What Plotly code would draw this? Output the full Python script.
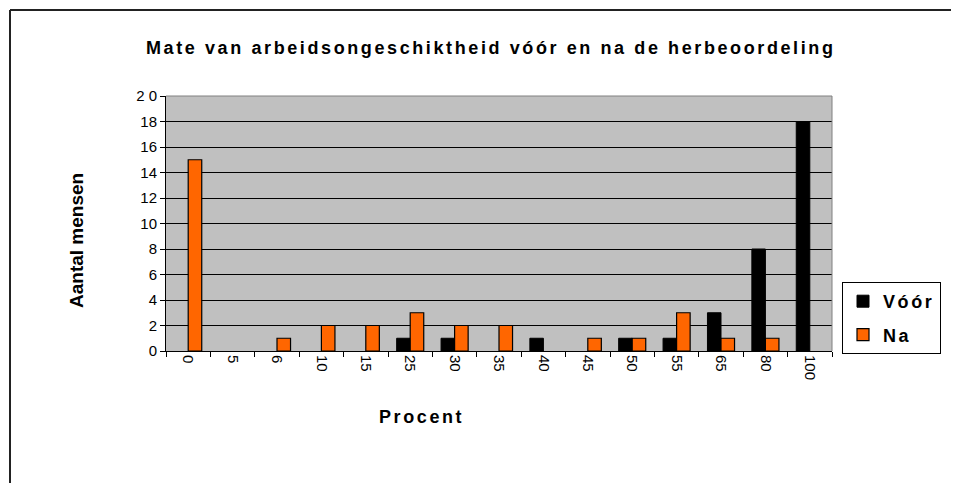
import plotly.graph_objects as go

categories = ["0", "5", "6", "10", "15", "25", "30", "35", "40", "45", "50", "55", "65", "80", "100"]
voor = [0, 0, 0, 0, 0, 1, 1, 0, 1, 0, 1, 1, 3, 8, 18]
na = [15, 0, 1, 2, 2, 3, 2, 2, 0, 1, 1, 3, 1, 1, 0]
y_ticks = [0, 2, 4, 6, 8, 10, 12, 14, 16, 18, 20]
y_ticktext = ["0", "2", "4", "6", "8", "10", "12", "14", "16", "18", "2 0"]

# page body has an 8px margin; work in window pixel coordinates
OFF = 8
WIN_W, WIN_H = 959, 483
W, H = WIN_W - OFF, WIN_H - OFF
L, R, T, B = 166, 832, 96, 351   # plot area in window px

def px(x):
    return (x - L) / (R - L)

def py(y):
    return (B - y) / (B - T)

def nz(vals):
    return [v if v else None for v in vals]

FONT = "Arial, Liberation Sans, sans-serif"
SP = "letter-spacing:2.6px"

fig = go.Figure()
fig.add_trace(go.Bar(name=f"<b><span style='{SP}'>Vóór</span></b>", x=categories, y=nz(voor),
                     legendgroup="a",
                     marker=dict(color="#000000", line=dict(color="#000000", width=1))))
fig.add_trace(go.Bar(name=f"<b><span style='{SP}'>Na</span></b>", x=categories, y=nz(na),
                     legendgroup="b",
                     marker=dict(color="#ff6600", line=dict(color="#000000", width=1.2))))

fig.update_layout(
    width=W, height=H,
    margin=dict(l=L - OFF, r=WIN_W - R, t=T - OFF, b=WIN_H - B, pad=0),
    paper_bgcolor="white",
    plot_bgcolor="#c0c0c0",
    barmode="group",
    bargap=0.39,
    bargroupgap=0,
    font=dict(family=FONT, size=15, color="black"),
    showlegend=True,
    legend=dict(
        x=px(842), y=py(282), xanchor="left", yanchor="top",
        bgcolor="white", bordercolor="#000000", borderwidth=1,
        font=dict(family=FONT, size=18, color="black"),
        traceorder="grouped", tracegroupgap=7,
    ),
    xaxis=dict(
        type="category", tickangle=90, showgrid=False,
        showline=True, linecolor="black", linewidth=1,
        ticks="outside", ticklen=5, tickcolor="black", tickson="boundaries",
        tickfont=dict(family=FONT, size=15, color="black"),
        fixedrange=True,
    ),
    yaxis=dict(
        range=[0, 20], tickvals=y_ticks, ticktext=y_ticktext,
        showgrid=True, gridcolor="#000000", gridwidth=1,
        showline=True, linecolor="black", linewidth=1,
        ticks="outside", ticklen=5, tickcolor="black",
        tickfont=dict(family=FONT, size=15, color="black"),
        zeroline=False,
    ),
    annotations=[
        dict(text=f"<b><span style='{SP}'>Mate van arbeidsongeschiktheid vóór en na de herbeoordeling</span></b>",
             x=px(491), y=py(48), xref="paper", yref="paper", showarrow=False,
             xanchor="center", yanchor="middle", font=dict(family=FONT, size=18, color="black")),
        dict(text="<b>Aantal mensen</b>", textangle=-90,
             x=px(76), y=py(241), xref="paper", yref="paper", showarrow=False,
             xanchor="center", yanchor="middle", font=dict(family=FONT, size=19, color="black")),
        dict(text=f"<b><span style='{SP}'>Procent</span></b>",
             x=px(421), y=py(417), xref="paper", yref="paper", showarrow=False,
             xanchor="center", yanchor="middle", font=dict(family=FONT, size=18, color="black")),
    ],
    shapes=[
        dict(type="line", xref="paper", yref="paper", x0=0, x1=1, y0=1, y1=1, line=dict(color="#808080", width=1)),
        dict(type="line", xref="paper", yref="paper", x0=1, x1=1, y0=0, y1=1, line=dict(color="#808080", width=1)),
        dict(type="line", xref="paper", yref="paper", x0=px(10), x1=px(WIN_W + 5), y0=py(10), y1=py(10), line=dict(color="#222222", width=2)),
        dict(type="line", xref="paper", yref="paper", x0=px(10), x1=px(10), y0=py(10), y1=py(WIN_H + 5), line=dict(color="#222222", width=2)),
    ],
)

fig.write_html("out.html")
